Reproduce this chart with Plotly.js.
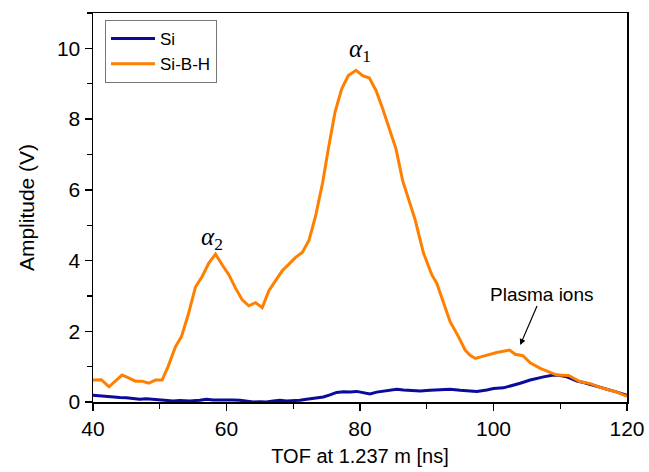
<!DOCTYPE html>
<html>
<head>
<meta charset="utf-8">
<script src="https://cdn.plot.ly/plotly-3.0.1.min.js"></script>
<style>html,body{margin:0;padding:0;background:#fff;}#chart{width:649px;height:472px;}</style>
</head>
<body>
<div id="chart"></div>
<script>
// Si series (blue)
const siX = [40,41,42.5,44,45,46,47,48,49.5,51,52,53,54.5,56,57,58,59.5,61,62,63,64,65,66,67,68,69,70,71,72,73,74.5,75.5,76.5,77.5,78.5,79.5,80.5,81.5,82.5,83.5,84.5,85.5,86.5,88,89,90.5,92,93.5,95,96.5,97.5,99,100,101.5,103,104,105.5,106.5,107.5,109,110,111,112.5,113.5,114.5,115.5,116.5,117.5,118.5,120];
const siY = [0.19,0.17,0.14,0.13,0.12,0.10,0.08,0.09,0.07,0.05,0.03,0.04,0.03,0.05,0.08,0.06,0.07,0.06,0.05,0.02,0.00,0.01,0.00,0.03,0.05,0.03,0.03,0.05,0.08,0.10,0.14,0.20,0.27,0.29,0.28,0.30,0.27,0.23,0.28,0.30,0.33,0.36,0.34,0.33,0.31,0.33,0.34,0.36,0.33,0.32,0.30,0.34,0.38,0.40,0.47,0.53,0.62,0.67,0.71,0.76,0.75,0.71,0.59,0.55,0.50,0.44,0.38,0.33,0.28,0.19];

// Si-B-H series (orange)
const sbhX = [40,41.25,42.4,44.35,45.25,46.35,47.35,48.35,49.35,50.35,51.25,52.35,53.25,54.25,55.35,56.35,57.35,58.35,59.35,60.35,61.35,62.35,63.35,64.35,65.35,66.35,67.35,68.35,69.35,70.35,71.35,72.35,73.35,74.4,75.25,76.25,77.25,78.25,79.4,80.4,81.4,82.4,83.4,84.4,85.4,86.4,87.75,88.25,89.5,90.75,91.5,92.5,93.5,94.75,95.75,96.5,97.3,98.75,100.5,102.4,103.25,104.4,105.5,107,108.5,109.5,111.25,113,114.5,116.5,118.5,120];
const sbhY = [0.62,0.63,0.43,0.76,0.69,0.59,0.59,0.53,0.62,0.62,1.0,1.56,1.85,2.46,3.25,3.55,3.93,4.18,3.88,3.6,3.22,2.89,2.72,2.81,2.67,3.15,3.43,3.71,3.90,4.09,4.23,4.57,5.26,6.2,7.15,8.19,8.85,9.23,9.38,9.23,9.16,8.81,8.29,7.72,7.15,6.25,5.47,5.16,4.22,3.6,3.36,2.8,2.27,1.85,1.47,1.32,1.23,1.31,1.40,1.47,1.35,1.31,1.11,0.95,0.83,0.76,0.75,0.57,0.52,0.38,0.28,0.16];

const seriesNames = ["Si", "Si-B-H"];
const xTitle = "TOF at 1.237 m [ns]";
const yTitle = "Amplitude (V)";

const FONT = "Liberation Sans, Arial, sans-serif";
const SERIF = "Liberation Serif, Times New Roman, serif";

const traces = [
  {x: siX, y: siY, name: seriesNames[0], type: "scatter", mode: "lines",
   line: {color: "#0A0A9C", width: 3}},
  {x: sbhX, y: sbhY, name: seriesNames[1], type: "scatter", mode: "lines",
   line: {color: "#FF8000", width: 3}}
];

const layout = {
  width: 649, height: 472,
  margin: {l: 93, r: 22, t: 13, b: 70},
  paper_bgcolor: "#fff", plot_bgcolor: "#fff",
  font: {family: FONT, color: "#000", size: 21},
  showlegend: true,
  legend: {x: 0.0225, y: 0.982, xanchor: "left", yanchor: "top",
    bgcolor: "#fff", bordercolor: "#777", borderwidth: 1,
    itemwidth: 44, tracegroupgap: 0,
    font: {family: FONT, size: 17, color: "#000"}},
  xaxis: {
    range: [40, 120], dtick: 20, tick0: 40,
    showgrid: false, zeroline: false,
    showline: true, linecolor: "#000", linewidth: 1.5, mirror: true,
    ticks: "outside", ticklen: 7, tickwidth: 1.5, tickcolor: "#000",
    minor: {dtick: 10, ticks: "outside", ticklen: 5, tickwidth: 1.2, tickcolor: "#000"},
    tickfont: {family: FONT, size: 21},
    title: {text: xTitle, font: {family: FONT, size: 20}, standoff: 10}
  },
  yaxis: {
    range: [0, 11], dtick: 2, tick0: 0,
    showgrid: false, zeroline: false,
    showline: true, linecolor: "#000", linewidth: 1.5, mirror: true,
    ticks: "outside", ticklen: 7, tickwidth: 1.5, tickcolor: "#000",
    minor: {dtick: 1, ticks: "outside", ticklen: 5, tickwidth: 1.2, tickcolor: "#000"},
    tickfont: {family: FONT, size: 21},
    title: {text: yTitle, font: {family: FONT, size: 21}, standoff: 16}
  },
  annotations: [
    {x: 80.0, y: 9.93, xref: "x", yref: "y", showarrow: false,
     text: "<i>α</i><sub>1</sub>", font: {family: SERIF, size: 25, color: "#000"}},
    {x: 57.8, y: 4.62, xref: "x", yref: "y", showarrow: false,
     text: "<i>α</i><sub>2</sub>", font: {family: SERIF, size: 25, color: "#000"}},
    {x: 104.0, y: 1.61, xref: "x", yref: "y", showarrow: true,
     ax: 22, ay: -51, arrowhead: 2, arrowsize: 1, arrowwidth: 1.2, arrowcolor: "#000", standoff: 0,
     text: "Plasma ions", font: {family: FONT, size: 19, color: "#000"}}
  ]
};

Plotly.newPlot("chart", traces, layout, {displayModeBar: false, staticPlot: true});
</script>
</body>
</html>
